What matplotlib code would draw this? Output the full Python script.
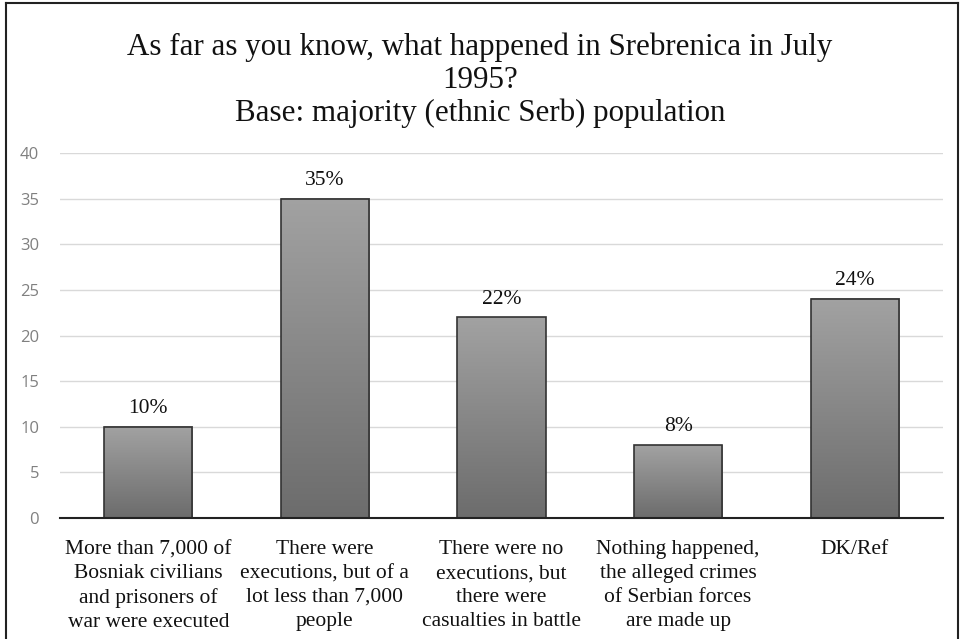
import numpy as np
import matplotlib
matplotlib.use("Agg")
import matplotlib.pyplot as plt
from matplotlib.colors import LinearSegmentedColormap
from matplotlib.lines import Line2D

# chart data
categories = [
    "More than 7,000 of\nBosniak civilians\nand prisoners of\nwar were executed",
    "There were\nexecutions, but of a\nlot less than 7,000\npeople",
    "There were no\nexecutions, but\nthere were\ncasualties in battle",
    "Nothing happened,\nthe alleged crimes\nof Serbian forces\nare made up",
    "DK/Ref",
]
values = [10, 35, 22, 8, 24]
value_labels = ["10%", "35%", "22%", "8%", "24%"]
y_ticks = [0, 5, 10, 15, 20, 25, 30, 35, 40]

title_lines = ["As far as you know, what happened in Srebrenica in July",
               "1995?",
               "Base: majority (ethnic Serb) population"]

serif = "Liberation Serif"

fig = plt.figure(figsize=(9.6, 6.39), dpi=100)
ax = fig.add_axes([60 / 960, 1 - 518 / 639, 883 / 960, 365 / 639])

x = np.arange(len(categories))
bars = ax.bar(x, values, width=0.5, color="none", edgecolor="#333333",
              linewidth=1.2, zorder=3)

# vertical gradient inside each bar (light top, dark bottom)
grad_cmap = LinearSegmentedColormap.from_list("g", ["#6c6c6c", "#a2a2a2"])
gradient = np.linspace(0, 1, 256).reshape(-1, 1)
for b in bars:
    x0, w, h = b.get_x(), b.get_width(), b.get_height()
    ax.imshow(gradient, cmap=grad_cmap, aspect="auto", origin="lower",
              extent=[x0, x0 + w, 0, h], zorder=2)

for xi, v, lab in zip(x, values, value_labels):
    ax.text(xi, v + 2.0, lab, ha="center", va="center", fontsize=15.5,
            family=serif, color="#111111")

ax.set_xlim(-0.5, len(categories) - 0.5)
ax.set_ylim(0, 40)
ax.set_yticks(y_ticks)
ax.set_yticklabels([str(t) for t in y_ticks], fontsize=12, color="#808080",
                   family="Open Sans")
ax.set_xticks(x)
ax.set_xticklabels(categories, fontsize=15.5, family=serif, color="#111111",
                   va="top", linespacing=1.35)
ax.tick_params(axis="both", length=0)
ax.tick_params(axis="y", pad=15)
ax.tick_params(axis="x", pad=16)

ax.grid(axis="y", color="#d9d9d9", linewidth=1, zorder=0)
ax.set_axisbelow(True)
for side in ["top", "right", "left"]:
    ax.spines[side].set_visible(False)
ax.spines["bottom"].set_color("#222222")
ax.spines["bottom"].set_linewidth(1.5)
ax.spines["bottom"].set_zorder(4)

for i, line in enumerate(title_lines):
    fig.text(0.5, 1 - (55 + 32.8 * i) / 639, line, ha="center", va="baseline",
             fontsize=22.3, family=serif, color="#111111")

# outer frame (bottom edge cut off in the original)
frame_kw = dict(color="#222222", linewidth=1.5, transform=fig.transFigure)
fig.add_artist(Line2D([6 / 960, 6 / 960], [0, 1 - 3 / 639], **frame_kw))
fig.add_artist(Line2D([6 / 960, 958 / 960], [1 - 3 / 639, 1 - 3 / 639], **frame_kw))
fig.add_artist(Line2D([958 / 960, 958 / 960], [0, 1 - 3 / 639], **frame_kw))

fig.savefig("out.png", dpi=100)
